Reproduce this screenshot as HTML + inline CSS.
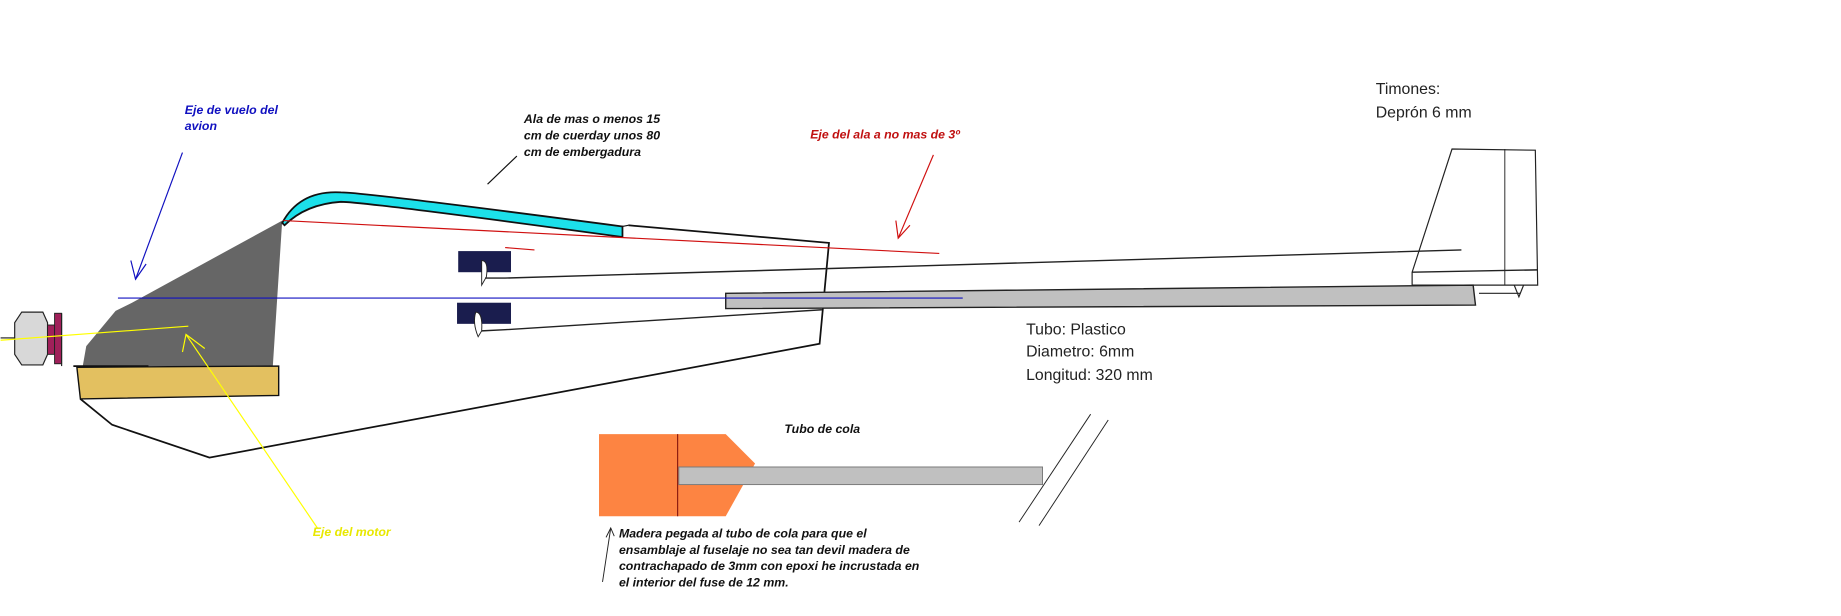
<!DOCTYPE html>
<html><head><meta charset="utf-8"><style>
html,body{margin:0;padding:0;background:#fff;}
svg{display:block;}
text{font-family:"Liberation Sans",sans-serif;}
.it{font-style:italic;font-weight:bold;font-size:10.5px;}
.sn{font-size:13.5px;fill:#222;}
</style></head><body>
<svg width="1841" height="616" viewBox="0 0 1568 525" xmlns="http://www.w3.org/2000/svg">
<rect width="1568" height="525" fill="#fff"/>
<!-- blue labels -->
<text class="it" x="157" y="97" fill="#1010c0">Eje de vuelo del</text>
<text class="it" x="157" y="111" fill="#1010c0">avion</text>
<line x1="155" y1="130" x2="115" y2="238" stroke="#1010c0" stroke-width="1"/>
<polyline points="111,222 115,238 124,225" fill="none" stroke="#1010c0"/>
<!-- fuselage outline -->
<polyline points="68,340 95,362 178,390 698,293 706,207 535,192" fill="none" stroke="#111" stroke-width="1.5"/>
<!-- gray former -->
<polygon points="240,188 232,312 70,312 73,295 98,265 112,258" fill="#666"/>
<line x1="62" y1="312" x2="126" y2="312" stroke="#111" stroke-width="1.5"/>
<!-- tan -->
<polygon points="65,313 237,312 237,337 68,340" fill="#e3c060" stroke="#111" stroke-width="1.2"/>
<!-- engine -->
<path d="M18,266 L36,266 L40,275 L40,302 L36,311 L18,311 L12,302 L12,275 Z" fill="#d8d8d8" stroke="#222" stroke-width="1"/>
<rect x="40" y="277" width="6" height="25" fill="#a0205a" stroke="#222" stroke-width="0.8"/>
<rect x="46" y="267" width="6" height="43" fill="#a0205a" stroke="#222" stroke-width="0.8"/>
<line x1="52" y1="267" x2="52" y2="312" stroke="#222"/>
<line x1="0" y1="288" x2="12" y2="288" stroke="#222"/>
<!-- wing -->
<path d="M240,190 Q255,162 290,164 Q310,164 530,193 L530,202 Q310,172 290,172 Q260,174 242,192 Z" fill="#1ce0ea" stroke="#111" stroke-width="1.5"/>
<line x1="530" y1="193" x2="535" y2="192" stroke="#111"/>
<!-- red axis -->
<line x1="241" y1="188" x2="800" y2="216" stroke="#d01010" stroke-width="1"/>
<line x1="430" y1="211" x2="455" y2="213" stroke="#d01010"/>
<line x1="795" y1="132" x2="765" y2="203" stroke="#d01010"/>
<polyline points="763,188 765,203 775,192" fill="none" stroke="#d01010"/>
<text class="it" x="690" y="118" fill="#c01010">Eje del ala a no mas de 3º</text>
<!-- wing note -->
<text class="it" x="446" y="105" fill="#111">Ala de mas o menos 15</text>
<text class="it" x="446" y="119" fill="#111">cm de cuerday unos 80</text>
<text class="it" x="446" y="133" fill="#111">cm de embergadura</text>
<line x1="415" y1="157" x2="440" y2="133" stroke="#111"/>
<!-- servos -->
<rect x="390" y="214" width="45" height="18" fill="#1a1d4e"/>
<rect x="389" y="258" width="46" height="18" fill="#1a1d4e"/>
<path d="M410,222 Q416,222 414,236 L410,243 Z" fill="#fff" stroke="#222" stroke-width="0.8"/>
<path d="M405,266 Q411,266 410,282 L407,287 Q402,275 405,266 Z" fill="#fff" stroke="#222" stroke-width="0.8"/>
<polyline points="413,237 430,237 1245,213" fill="none" stroke="#222" stroke-width="1.2"/>
<polyline points="410,282 430,281 700,264" fill="none" stroke="#222" stroke-width="1.2"/>
<!-- tube -->
<polygon points="618,250 1255,243 1257,260 618,263" fill="#c0c0c0" stroke="#222" stroke-width="1.2"/>
<!-- blue axis line -->
<line x1="100" y1="254" x2="820" y2="254" stroke="#1010c0" stroke-width="1"/>
<!-- yellow -->
<line x1="0" y1="290" x2="160" y2="278" stroke="#ffff00" stroke-width="1"/>
<line x1="270" y1="450" x2="158" y2="285" stroke="#ffff00" stroke-width="1"/>
<polyline points="155,300 158,285 174,297" fill="none" stroke="#ffff00"/>
<text class="it" x="266" y="457" fill="#e8e800">Eje del motor</text>
<!-- tail fin -->
<polyline points="1203,243 1203,232 1237,127 1308,128 1310,243 1203,243" fill="none" stroke="#222" stroke-width="1"/>
<line x1="1282" y1="127" x2="1282" y2="243" stroke="#222" stroke-width="0.8"/>
<line x1="1203" y1="232" x2="1310" y2="230" stroke="#222" stroke-width="1.2"/>
<line x1="1260" y1="250" x2="1295" y2="250" stroke="#222"/>
<polyline points="1290,243 1294,253 1298,243" fill="none" stroke="#222"/>
<text class="sn" x="1172" y="80">Timones:</text>
<text class="sn" x="1172" y="100">Deprón 6 mm</text>
<text class="sn" x="874" y="285">Tubo: Plastico</text>
<text class="sn" x="874" y="304">Diametro: 6mm</text>
<text class="sn" x="874" y="324">Longitud: 320 mm</text>
<!-- bottom detail -->
<text class="it" x="668" y="369" fill="#111">Tubo de cola</text>
<polygon points="510,370 618,370 643,395 618,440 510,440" fill="#fd8442"/>
<line x1="577" y1="370" x2="577" y2="440" stroke="#8b1a10" stroke-width="1"/>
<rect x="578" y="398" width="310" height="15" fill="#c0c0c0" stroke="#777" stroke-width="0.8"/>
<line x1="868" y1="445" x2="929" y2="353" stroke="#222" stroke-width="0.8"/>
<line x1="885" y1="448" x2="944" y2="358" stroke="#222" stroke-width="0.8"/>
<line x1="513" y1="496" x2="520" y2="450" stroke="#222" stroke-width="0.8"/>
<polyline points="516,458 520,450 523,457" fill="none" stroke="#222" stroke-width="0.8"/>
<text class="it" x="527" y="458" fill="#111">Madera pegada al tubo de cola para que el</text>
<text class="it" x="527" y="472" fill="#111">ensamblaje al fuselaje no sea tan devil madera de</text>
<text class="it" x="527" y="486" fill="#111">contrachapado de 3mm con epoxi he incrustada en</text>
<text class="it" x="527" y="500" fill="#111">el interior del fuse de 12 mm.</text>
</svg>
</body></html>
